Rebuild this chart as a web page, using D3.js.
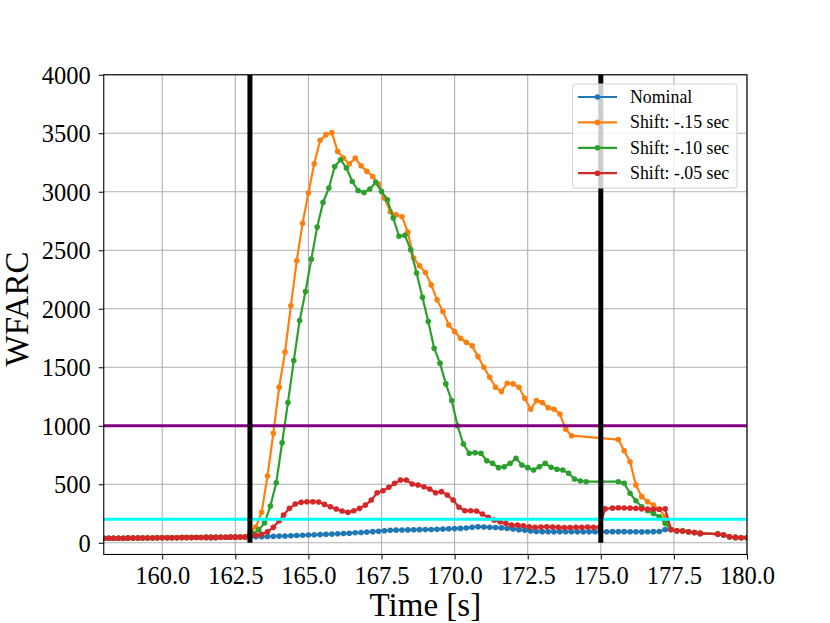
<!DOCTYPE html>
<html>
<head>
<meta charset="utf-8">
<script src="https://cdn.jsdelivr.net/npm/d3@7"></script>
<style>
  html, body { margin: 0; padding: 0; background: #ffffff; }
  svg { display: block; font-family: "Liberation Serif", "Times New Roman", serif; }
  svg text { font-family: "Liberation Serif", "Times New Roman", serif !important; }
</style>
</head>
<body>
<svg id="chart" width="830" height="623"></svg>
<script>
// ---------------- DATA ----------------
const seriesNames = ["Nominal", "Shift: -.15 sec", "Shift: -.10 sec", "Shift: -.05 sec"];
const seriesColors = ["#1f77b4", "#ff7f0e", "#2ca02c", "#d62728"];

const xTicks = [160, 162.5, 165, 167.5, 170, 172.5, 175, 177.5, 180];
const yTicks = [0, 500, 1000, 1500, 2000, 2500, 3000, 3500, 4000];

// common part before the event (all series overlap)
const preTime = [158.0,158.17,158.33,158.5,158.67,158.83,159.0,159.17,159.33,159.5,159.67,159.83,160.0,160.17,160.33,160.5,160.67,160.83,161.0,161.17,161.33,161.5,161.67,161.83,162.0,162.17,162.33,162.5,162.67,162.83];
const preValue = [38,38,39,39,39,40,40,40,41,41,41,42,42,42,43,43,44,44,44,45,45,46,46,46,47,47,48,48,49,49];

// common tail after the event
const tailTime = [177.4,177.6,177.8,178.0,178.2,178.4,179.0,179.2,179.4,179.6,179.8,180.0];
const tailValue = [113,103,100,94,87,80,74,66,51,46,43,43];

const nominalTime = [163.0,163.2,163.4,163.6,163.8,164.0,164.2,164.4,164.6,164.8,165.0,165.2,165.4,165.6,165.8,166.0,166.2,166.4,166.6,166.8,167.0,167.2,167.4,167.6,167.8,168.0,168.2,168.4,168.6,168.8,169.0,169.2,169.4,169.6,169.8,170.0,170.2,170.4,170.6,170.8,171.0,171.2,171.4,171.6,171.8,172.0,172.2,172.4,172.6,172.8,173.0,173.2,173.4,173.6,173.8,174.0,174.2,174.4,174.6,174.8,175.0,175.2,175.4,175.6,175.8,176.0,176.2,176.4,176.6,176.8,177.0,177.2];
const nominalValue = [50,51,52,54,55,57,58,60,62,64,66,68,70,72,74,77,79,82,85,88,91,95,99,103,106,108,109,110,111,112,113,114,115,117,119,121,123,126,133,137,135,133,130,127,123,118,112,106,100,96,95,95,94,94,94,94,94,94,94,94,94,94,95,95,95,94,94,93,94,95,96,114];

const shift15Time = [163.0,163.2,163.4,163.6,163.8,164.0,164.2,164.4,164.6,164.8,165.0,165.2,165.4,165.6,165.8,166.0,166.2,166.4,166.6,166.8,167.0,167.2,167.4,167.6,167.8,168.0,168.2,168.4,168.6,168.8,169.0,169.2,169.4,169.6,169.8,170.0,170.2,170.4,170.6,170.8,171.0,171.2,171.4,171.6,171.8,172.0,172.2,172.4,172.6,172.8,173.0,173.2,173.4,173.6,173.8,174.0,175.6,175.8,176.0,176.2,176.4,176.6,176.8,177.0,177.2];
const shift15Value = [94,135,260,570,935,1330,1630,2025,2410,2730,2990,3240,3440,3488,3507,3345,3288,3237,3288,3222,3174,3131,3066,2946,2830,2803,2787,2655,2433,2367,2310,2204,2076,1976,1862,1805,1748,1714,1683,1591,1500,1415,1329,1292,1364,1358,1329,1235,1141,1215,1198,1155,1141,1101,970,915,882,787,693,494,394,351,322,286,222];

const shift10Time = [163.1,163.3,163.5,163.7,163.9,164.1,164.3,164.5,164.7,164.9,165.1,165.3,165.5,165.7,165.9,166.1,166.3,166.5,166.7,166.9,167.1,167.3,167.5,167.7,167.9,168.1,168.3,168.5,168.7,168.9,169.1,169.3,169.5,169.7,169.9,170.1,170.3,170.5,170.7,170.9,171.1,171.3,171.5,171.7,171.9,172.1,172.3,172.5,172.7,172.9,173.1,173.3,173.5,173.7,173.9,174.1,174.3,174.5,175.6,175.8,176.0,176.2,176.4,176.6,176.8,177.0,177.2];
const shift10Value = [80,110,170,314,513,855,1198,1557,1900,2147,2424,2698,2909,3032,3216,3274,3203,3088,3011,2994,3023,3080,3003,2932,2775,2620,2628,2504,2305,2099,1891,1663,1535,1358,1215,1000,844,765,770,765,701,679,642,650,679,722,665,642,622,650,679,645,628,622,594,545,528,522,522,508,423,359,308,274,251,222,166];

const shift05Time = [163.0,163.2,163.4,163.6,163.8,164.0,164.15,164.35,164.55,164.75,164.95,165.15,165.35,165.55,165.75,165.95,166.15,166.35,166.55,166.75,166.95,167.15,167.35,167.55,167.75,167.95,168.15,168.35,168.55,168.75,168.95,169.15,169.35,169.55,169.75,169.95,170.15,170.35,170.55,170.75,170.95,171.15,171.35,171.55,171.75,171.95,172.15,172.35,172.55,172.75,172.95,173.15,173.35,173.55,173.75,173.95,174.15,174.35,174.55,174.75,174.95,175.15,175.4,175.6,175.8,176.0,176.2,176.4,176.6,176.8,177.0,177.2];
const shift05Value = [57,63,72,94,132,188,237,294,331,346,351,351,348,328,308,288,271,260,274,294,322,365,428,445,474,508,536,536,502,494,479,459,428,437,408,365,303,274,274,271,246,217,194,180,166,151,151,145,137,132,135,137,135,132,130,130,132,132,135,132,132,290,296,299,297,296,294,290,288,286,286,290];

// reference lines
const hLineValues = [1000, 200];
const hLineColors = ["#800080", "#00ffff"];
const vLineTimes = [163, 175];
const vLineRange = [0, 4000];

// ---------------- CHART ----------------
(function () {
const FONT = '"Liberation Serif", "Times New Roman", serif';
const svg = d3.select("#chart");
const W = 830, H = 623;
const pL = 103.75, pR = 747, pT = 74.76, pB = 554.47;

const x = d3.scaleLinear().domain([158, 180]).range([pL, pR]);
const y = d3.scaleLinear().domain([-100, 4000]).range([pB, pT]);

svg.append("rect").attr("width", W).attr("height", H).attr("fill", "#ffffff");

const clipId = "plotclip";
svg.append("defs").append("clipPath").attr("id", clipId)
  .append("rect").attr("x", pL).attr("y", pT).attr("width", pR - pL).attr("height", pB - pT);

// grid
const grid = svg.append("g");
grid.selectAll("line.gx").data(xTicks).enter().append("line")
  .attr("x1", d => x(d)).attr("x2", d => x(d)).attr("y1", pT).attr("y2", pB)
  .attr("stroke", "#b0b0b0").attr("stroke-width", 1.1);
grid.selectAll("line.gy").data(yTicks).enter().append("line")
  .attr("x1", pL).attr("x2", pR).attr("y1", d => y(d)).attr("y2", d => y(d))
  .attr("stroke", "#b0b0b0").attr("stroke-width", 1.1);

// build series
function build(t, v) {
  const pts = [];
  preTime.forEach((tt, i) => pts.push([tt, preValue[i]]));
  t.forEach((tt, i) => pts.push([tt, v[i]]));
  tailTime.forEach((tt, i) => pts.push([tt, tailValue[i]]));
  return pts;
}
const seriesData = [
  build(nominalTime, nominalValue),
  build(shift15Time, shift15Value),
  build(shift10Time, shift10Value),
  build(shift05Time, shift05Value)
];

const plot = svg.append("g").attr("clip-path", `url(#${clipId})`);
const line = d3.line().x(d => x(d[0])).y(d => y(d[1]));

seriesData.forEach((pts, i) => {
  const g = plot.append("g");
  g.append("path").attr("d", line(pts)).attr("fill", "none")
    .attr("stroke", seriesColors[i]).attr("stroke-width", 2.2).attr("stroke-linejoin", "round");
  g.selectAll("circle").data(pts).enter().append("circle")
    .attr("cx", d => x(d[0])).attr("cy", d => y(d[1])).attr("r", 2.8)
    .attr("fill", seriesColors[i]);
});

// horizontal reference lines
hLineValues.forEach((v, i) => {
  plot.append("line").attr("x1", pL).attr("x2", pR).attr("y1", y(v)).attr("y2", y(v))
    .attr("stroke", hLineColors[i]).attr("stroke-width", 3);
});
// vertical reference lines
vLineTimes.forEach(t => {
  plot.append("line").attr("x1", x(t)).attr("x2", x(t)).attr("y1", y(vLineRange[0])).attr("y2", y(vLineRange[1]))
    .attr("stroke", "#000000").attr("stroke-width", 5);
});

// axes
const xAxis = d3.axisBottom(x).tickValues(xTicks).tickFormat(d3.format(".1f")).tickSize(5).tickPadding(7);
const yAxis = d3.axisLeft(y).tickValues(yTicks).tickFormat(d3.format("d")).tickSize(5).tickPadding(8);

const gx = svg.append("g").attr("transform", `translate(0,${pB})`).call(xAxis);
const gy = svg.append("g").attr("transform", `translate(${pL},0)`).call(yAxis);
[gx, gy].forEach(g => {
  g.attr("font-family", FONT).attr("font-size", 24.5);
  g.select(".domain").remove();
  g.selectAll(".tick line").attr("stroke", "#000").attr("stroke-width", 1);
  g.selectAll(".tick text").attr("fill", "#000").attr("font-family", FONT).attr("font-size", 24.5);
});
gy.selectAll(".tick text").attr("dy", "0.34em");

// spines
svg.append("rect").attr("x", pL).attr("y", pT).attr("width", pR - pL).attr("height", pB - pT)
  .attr("fill", "none").attr("stroke", "#000").attr("stroke-width", 1.1);

// axis labels
svg.append("text").attr("x", (pL + pR) / 2).attr("y", 616)
  .attr("text-anchor", "middle").attr("font-family", FONT).attr("font-size", 33).text("Time [s]");
svg.append("text").attr("transform", `translate(28,309) rotate(-90)`)
  .attr("text-anchor", "middle").attr("font-family", FONT).attr("font-size", 33).text("WFARC");

// legend
const lg = svg.append("g");
lg.append("rect").attr("x", 572.5).attr("y", 84).attr("width", 164.5).attr("height", 104).attr("rx", 3)
  .attr("fill", "#ffffff").attr("fill-opacity", 0.8).attr("stroke", "#d0d0d0").attr("stroke-width", 1);
seriesNames.forEach((name, i) => {
  const cy = 97 + i * 25.4;
  lg.append("line").attr("x1", 578).attr("x2", 617).attr("y1", cy).attr("y2", cy)
    .attr("stroke", seriesColors[i]).attr("stroke-width", 2.2);
  lg.append("circle").attr("cx", 597.5).attr("cy", cy).attr("r", 2.8).attr("fill", seriesColors[i]);
  lg.append("text").attr("x", 630).attr("y", cy + 6).attr("font-family", FONT).attr("font-size", 17.8)
    .attr("fill", "#000").text(name);
});
})();
</script>
</body>
</html>
